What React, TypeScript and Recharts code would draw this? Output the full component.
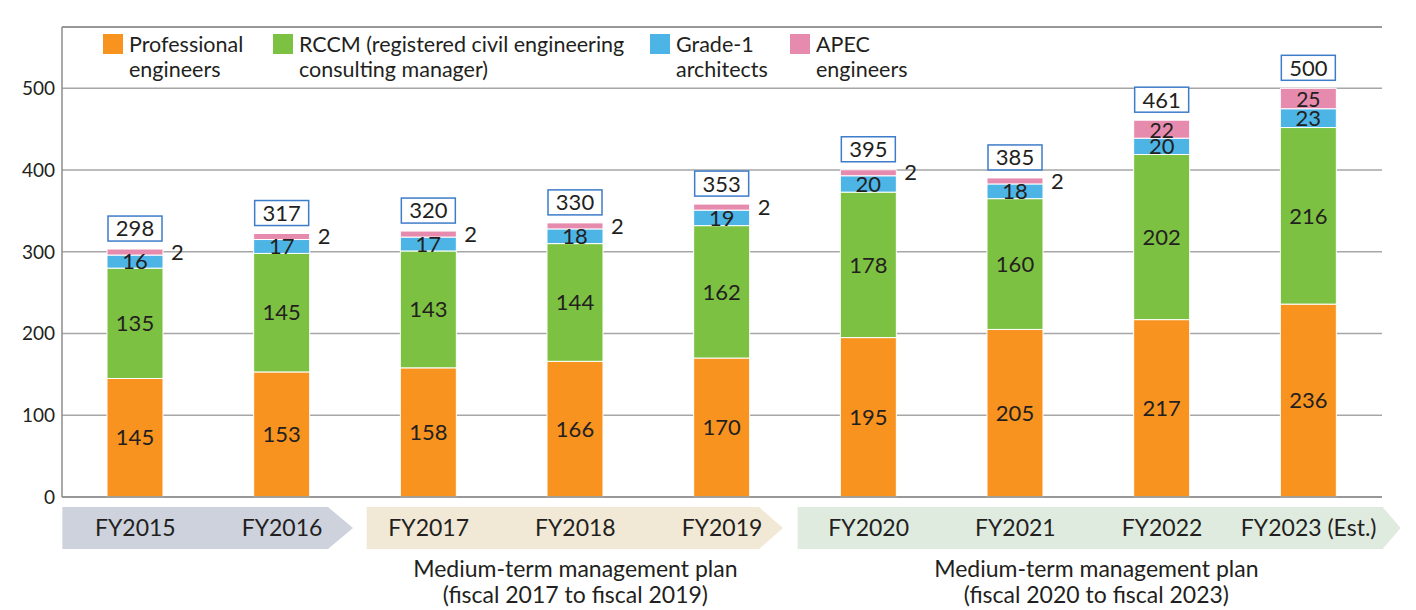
import React from 'react'
import {
  BarChart, Bar, XAxis, YAxis, CartesianGrid, LabelList, ReferenceLine,
} from 'recharts'

const categories = ['FY2015', 'FY2016', 'FY2017', 'FY2018', 'FY2019', 'FY2020', 'FY2021', 'FY2022', 'FY2023 (Est.)']
const professional = [145, 153, 158, 166, 170, 195, 205, 217, 236]
const rccm = [135, 145, 143, 144, 162, 178, 160, 202, 216]
const grade1 = [16, 17, 17, 18, 19, 20, 18, 20, 23]
const apec = [2, 2, 2, 2, 2, 2, 2, 22, 25]
const totals = [298, 317, 320, 330, 353, 395, 385, 461, 500]
const yTicks = [0, 100, 200, 300, 400, 500]

const FONT = 'Lato, "Open Sans", sans-serif'
const INK = '#231f20'
const COLORS = { pro: '#f7931e', rccm: '#7dc142', g1: '#4db4e6', apec: '#e68aae' }

const data = categories.map((name, i) => ({
  name,
  pro: professional[i],
  rccm: rccm[i],
  g1: grade1[i],
  apec: apec[i],
  total: totals[i],
}))

const W = 1416
const H = 610
const PLOT_L = 62
const PLOT_R = 1382
const BAND = (PLOT_R - PLOT_L) / categories.length

// arrow bands under the axis
const groups = [
  { from: 0, to: 1, color: '#cdd2dd', start: -73, rectEnd: 46, tip: 71 },
  { from: 2, to: 4, color: '#f1e9d6', start: -62, rectEnd: 37, tip: 61 },
  { from: 5, to: 8, color: '#dfebdf', start: -71, rectEnd: 74, tip: 92 },
]
const plans = [
  { at: 3, dx: 0, lines: ['Medium-term management plan', '(fiscal 2017 to fiscal 2019)'] },
  { at: 6, dx: 81, lines: ['Medium-term management plan', '(fiscal 2020 to fiscal 2023)'] },
]

function CategoryTick(props: any) {
  const { x, y, payload, index } = props
  const top = y + 10
  const bot = y + 52
  const mid = (top + bot) / 2
  const g = groups.find((gr) => gr.from === index)
  const plan = plans.find((p) => p.at === index)
  let band = null
  if (g) {
    const x0 = x + g.start
    const xe = x + (g.to - g.from) * BAND
    const pts = [
      [x0, top], [xe + g.rectEnd, top], [xe + g.tip, mid], [xe + g.rectEnd, bot], [x0, bot],
    ].map((p) => p.join(',')).join(' ')
    band = <polygon points={pts} fill={g.color} />
  }
  return (
    <g>
      {band}
      <text x={x} y={mid} dy="0.35em" textAnchor="middle" fontSize={23} fill={INK} fontFamily={FONT}>
        {payload.value}
      </text>
      {plan && plan.lines.map((l, k) => (
        <text key={k} x={x + plan.dx} y={bot + 20 + k * 26} dy="0.35em" textAnchor="middle"
          fontSize={23} fill={INK} fontFamily={FONT}>
          {l}
        </text>
      ))}
    </g>
  )
}

function TotalBox(props: any) {
  const { x, y, width, value } = props
  const cx = x + width / 2
  const bw = 54
  const bh = 25
  const by = y - 8 - bh
  return (
    <g>
      <rect x={cx - bw / 2} y={by} width={bw} height={bh} fill="#fff" stroke="#3d7cc9" strokeWidth={1.5} />
      <text x={cx} y={by + bh / 2} dy="0.36em" textAnchor="middle" fontSize={22} fill={INK} fontFamily={FONT}>
        {value}
      </text>
    </g>
  )
}

function ApecLabel(props: any) {
  const { x, y, width, height, value } = props
  const small = value < 10
  return (
    <text
      x={small ? x + width + 8 : x + width / 2}
      y={y + height / 2 + (small ? 0 : 1)}
      dy="0.35em"
      textAnchor={small ? 'start' : 'middle'}
      fontSize={small ? 22 : 21}
      fill={INK}
      fontFamily={FONT}
    >
      {value}
    </text>
  )
}

function SegLabel(props: any) {
  const { x, y, width, height, value } = props
  return (
    <text x={x + width / 2} y={y + height / 2} dy="0.35em" textAnchor="middle"
      fontSize={22} fill={INK} fontFamily={FONT}>
      {value}
    </text>
  )
}

const legendItems = [
  { color: COLORS.pro, x: 103, lines: ['Professional', 'engineers'] },
  { color: COLORS.rccm, x: 273, lines: ['RCCM (registered civil engineering', 'consulting manager)'] },
  { color: COLORS.g1, x: 650, lines: ['Grade-1', 'architects'] },
  { color: COLORS.apec, x: 790, lines: ['APEC', 'engineers'] },
]

export default function App() {
  return (
    <div style={{ position: 'absolute', left: 0, top: 0, width: W, height: H, background: '#fff' }}>
      <BarChart
        width={W}
        height={H}
        data={data}
        margin={{ top: 27, right: W - PLOT_R, left: 0, bottom: 0 }}
        barSize={56}
      >
        <CartesianGrid vertical={false} stroke="#a6a6a6" strokeWidth={1.5} />
        <XAxis
          dataKey="name"
          height={113}
          axisLine={{ stroke: '#8c8c8c', strokeWidth: 1.5 }}
          tickLine={false}
          tickSize={0}
          tickMargin={0}
          interval={0}
          tick={<CategoryTick />}
        />
        <YAxis
          domain={[0, 575]}
          ticks={yTicks}
          width={PLOT_L}
          axisLine={{ stroke: '#8c8c8c', strokeWidth: 1.5 }}
          tickLine={false}
          tickSize={0}
          tickMargin={7}
          tick={{ fontSize: 19, fill: INK, fontFamily: FONT }}
        />
        <YAxis yAxisId="r" orientation="right" width={0} tick={false} tickLine={false}
          axisLine={{ stroke: '#8c8c8c', strokeWidth: 1.5 }} domain={[0, 575]} />
        <ReferenceLine y={575} stroke="#8c8c8c" strokeWidth={1.5} />
        <Bar dataKey="pro" stackId="s" fill={COLORS.pro} stroke="#fff" strokeWidth={1} isAnimationActive={false}>
          <LabelList dataKey="pro" content={<SegLabel />} />
        </Bar>
        <Bar dataKey="rccm" stackId="s" fill={COLORS.rccm} stroke="#fff" strokeWidth={1} isAnimationActive={false}>
          <LabelList dataKey="rccm" content={<SegLabel />} />
        </Bar>
        <Bar dataKey="g1" stackId="s" fill={COLORS.g1} stroke="#fff" strokeWidth={1} isAnimationActive={false}>
          <LabelList dataKey="g1" content={<SegLabel />} />
        </Bar>
        <Bar dataKey="apec" stackId="s" fill={COLORS.apec} stroke="#fff" strokeWidth={1} minPointSize={6} isAnimationActive={false}>
          <LabelList dataKey="apec" content={<ApecLabel />} />
          <LabelList dataKey="total" content={<TotalBox />} />
        </Bar>
      </BarChart>
      {legendItems.map((it) => (
        <div key={it.x} style={{ position: 'absolute', left: it.x, top: 32, display: 'flex', fontFamily: FONT, color: INK }}>
          <div style={{ width: 20, height: 20, background: it.color, marginTop: 2 }} />
          <div style={{ marginLeft: 6, fontSize: 21.5, lineHeight: '25px' }}>
            {it.lines.map((l) => <div key={l}>{l}</div>)}
          </div>
        </div>
      ))}
    </div>
  )
}
